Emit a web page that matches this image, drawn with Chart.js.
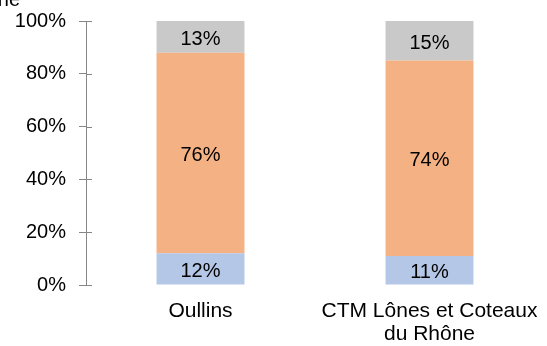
<!DOCTYPE html>
<html>
<head>
<meta charset="utf-8">
<script src="https://cdn.jsdelivr.net/npm/chart.js@4.4.1/dist/chart.umd.min.js"></script>
<style>
  html, body { margin: 0; padding: 0; background: #ffffff; }
  #wrap { width: 547px; height: 346px; position: relative; }
</style>
</head>
<body>
<div id="wrap"><canvas id="c" width="547" height="346"></canvas></div>
<script>
// Categories and stacked shares (percent)
const categories = ['Oullins', ['CTM Lônes et Coteaux', 'du Rhône']];
const seriesLow  = [12, 11];
const seriesMid  = [76, 74];
const seriesHigh = [13, 15];
const yTicks = [0, 20, 40, 60, 80, 100];

const FONT = "'Liberation Sans', Arial, sans-serif";
const AXIS_COLOR = '#868686';

// Ticks that cross the value axis (Chart.js only draws the outer part)
const crossTicks = {
  id: 'crossTicks',
  afterDraw(chart) {
    const { ctx, chartArea } = chart;
    const y = chart.scales.y;
    ctx.save();
    ctx.strokeStyle = AXIS_COLOR;
    ctx.lineWidth = 1;
    ctx.beginPath();
    yTicks.forEach(v => {
      const py = Math.round(y.getPixelForValue(v)) + 0.5;
      ctx.moveTo(chartArea.left, py);
      ctx.lineTo(chartArea.left + 6, py);
    });
    ctx.stroke();
    ctx.restore();
  }
};

// Percentage labels centred in each bar segment
const segmentLabels = {
  id: 'segmentLabels',
  afterDatasetsDraw(chart) {
    const { ctx, chartArea } = chart;
    ctx.save();
    ctx.font = '20px ' + FONT;
    ctx.fillStyle = '#000000';
    ctx.textAlign = 'center';
    ctx.textBaseline = 'middle';
    chart.data.datasets.forEach((ds, di) => {
      const meta = chart.getDatasetMeta(di);
      meta.data.forEach((bar, i) => {
        const top = Math.max(bar.y, chartArea.top);
        const bottom = Math.min(bar.base, chartArea.bottom);
        ctx.fillText(ds.data[i] + '%', bar.x, (top + bottom) / 2 + 2.5);
      });
    });
    ctx.restore();
  }
};

// Clipped heading fragment at the top-left corner
const headFragment = {
  id: 'headFragment',
  afterDraw(chart) {
    const { ctx } = chart;
    ctx.save();
    ctx.font = '20px ' + FONT;
    ctx.fillStyle = '#000000';
    ctx.textAlign = 'right';
    ctx.textBaseline = 'alphabetic';
    ctx.fillText('Rhône', 20, 6);
    ctx.restore();
  }
};

new Chart(document.getElementById('c'), {
  type: 'bar',
  data: {
    labels: categories,
    datasets: [
      { data: seriesLow,  backgroundColor: '#B4C7E7' },
      { data: seriesMid,  backgroundColor: '#F4B183' },
      { data: seriesHigh, backgroundColor: '#C9C9C9' }
    ]
  },
  options: {
    responsive: false,
    animation: false,
    devicePixelRatio: 1,
    layout: { padding: { top: 21, right: 3, left: 0, bottom: 0 } },
    datasets: { bar: { categoryPercentage: 1, barPercentage: 0.384, borderWidth: 0 } },
    plugins: { legend: { display: false }, tooltip: { enabled: false }, title: { display: false } },
    scales: {
      x: {
        stacked: true,
        grid: { display: false },
        border: { display: false },
        ticks: { font: { family: FONT, size: 21, lineHeight: 1.12 }, color: '#000000', padding: 6, maxRotation: 0, autoSkip: false },
        afterFit(s) { s.height = 61; }
      },
      y: {
        stacked: true,
        min: 0,
        max: 100,
        afterBuildTicks(s) { s.ticks = yTicks.map(v => ({ value: v })); },
        grid: { drawOnChartArea: false, drawTicks: true, tickLength: 7, color: AXIS_COLOR },
        border: { display: true, color: AXIS_COLOR },
        ticks: { font: { family: FONT, size: 20 }, color: '#000000', padding: 13, callback: v => v + '%' },
        afterFit(s) { s.width = 86; s.paddingTop = 0; s.paddingBottom = 0; }
      }
    }
  },
  plugins: [crossTicks, segmentLabels, headFragment]
});
</script>
</body>
</html>
